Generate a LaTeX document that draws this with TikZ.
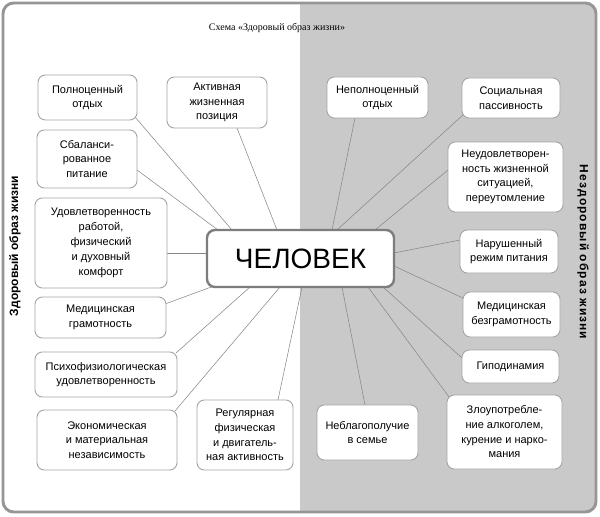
\documentclass[tikz,border=0pt]{standalone}
\usepackage{fontspec}
\setmainfont{Liberation Sans}
\newfontfamily\serifttl{Liberation Serif}
\usetikzlibrary{calc,backgrounds}
\definecolor{rightbg}{RGB}{201,201,201}
\definecolor{framecol}{RGB}{150,150,150}
\definecolor{boxborder}{RGB}{165,165,165}
\definecolor{centerborder}{RGB}{125,125,125}
\definecolor{linkcol}{RGB}{135,135,135}
\tikzset{
  boxnode/.style={draw=boxborder, line width=0.7pt, fill=white, rounded corners=5.5pt,
    align=center, inner sep=0pt, outer sep=0pt,
    font=\fontsize{8.25pt}{11pt}\selectfont},
  centernode/.style={draw=centerborder, line width=1.8pt, fill=white, rounded corners=6pt,
    inner sep=0pt, outer sep=0pt, font=\fontsize{21pt}{24pt}\selectfont},
  link/.style={draw=linkcol, line width=0.4pt},
  sidelabel/.style={font=\bfseries\fontsize{9pt}{10pt}\selectfont, inner sep=0pt}
}
\begin{document}
\begin{tikzpicture}[x=0.75pt,y=-0.75pt]
\useasboundingbox (0,0) rectangle (600,517);

% left column
\node[boxnode, minimum width=99*0.75pt, minimum height=45*0.75pt] (b1) at (87.5,97.5) {Полноценный\\отдых};
\node[boxnode, minimum width=100*0.75pt, minimum height=51*0.75pt] (b2) at (217,102.5) {Активная\\жизненная\\позиция};
\node[boxnode, minimum width=100*0.75pt, minimum height=58*0.75pt] (b3) at (87,159) {Сбаланси-\\рованное\\питание};
\node[boxnode, minimum width=132*0.75pt, minimum height=90*0.75pt, font=\fontsize{8.25pt}{11.25pt}\selectfont] (b4) at (101,243) {Удовлетворенность\\работой,\\физический\\и духовный\\комфорт};
\node[boxnode, minimum width=131*0.75pt, minimum height=41*0.75pt] (b5) at (100.5,317.5) {Медицинская\\грамотность};
\node[boxnode, minimum width=142*0.75pt, minimum height=45*0.75pt] (b6) at (106,374.5) {Психофизиологическая\\удовлетворенность};
\node[boxnode, minimum width=140*0.75pt, minimum height=60*0.75pt] (b7) at (107,440) {Экономическая\\и материальная\\независимость};
\node[boxnode, minimum width=96*0.75pt, minimum height=70*0.75pt] (b8) at (245,435) {Регулярная\\физическая\\и двигатель-\\ная активность};

% right column
\node[boxnode, minimum width=101*0.75pt, minimum height=41*0.75pt] (b9) at (377.5,97.5) {Неполноценный\\отдых};
\node[boxnode, minimum width=98*0.75pt, minimum height=40*0.75pt] (b10) at (511,98) {Социальная\\пассивность};
\node[boxnode, minimum width=115*0.75pt, minimum height=70*0.75pt] (b11) at (505.5,177) {Неудовлетворен-\\ность жизненной\\ситуацией,\\переутомление};
\node[boxnode, minimum width=98*0.75pt, minimum height=43*0.75pt] (b12) at (509,251.5) {Нарушенный\\режим питания};
\node[boxnode, minimum width=97*0.75pt, minimum height=45*0.75pt] (b13) at (511.5,314.5) {Медицинская\\безграмотность};
\node[boxnode, minimum width=97*0.75pt, minimum height=33*0.75pt] (b14) at (510.5,366.5) {Гиподинамия};
\node[boxnode, minimum width=115*0.75pt, minimum height=74*0.75pt] (b15) at (504.5,432) {Злоупотребле-\\ние алкоголем,\\курение и нарко-\\мания};
\node[boxnode, minimum width=101*0.75pt, minimum height=55*0.75pt] (b16) at (367.5,432.5) {Неблагополучие\\в семье};

% centre
\node[centernode, minimum width=187*0.75pt, minimum height=57*0.75pt] (c) at (300.5,258.5) {ЧЕЛОВЕК};

% title and side labels
\node[font=\serifttl\fontsize{7.5pt}{9pt}\selectfont, inner sep=0pt] (title) at (277,28) {Схема «Здоровый образ жизни»};
\node[sidelabel, rotate=90] (lhs) at (15,246) {Здоровый образ жизни};
\node[sidelabel, rotate=-90, font=\bfseries\fontsize{9pt}{10pt}\selectfont\addfontfeature{LetterSpace=9}] (rhs) at (583,252) {Нездоровый образ жизни};

\begin{pgfonlayer}{background}
  \begin{scope}
    \clip[rounded corners=8] (3,3) rectangle (596,512);
    \fill[white] (3,3) rectangle (300,512);
    \fill[rightbg] (300,3) rectangle (596,512);
  \end{scope}
  \draw[framecol, line width=2.2pt, rounded corners=8] (3,3) rectangle (596,512);

  \draw[link] ($(b1.south east)+(-2,-3)$) -- ($(c.north west)+(25,0)$);
  \draw[link] ($(b3.east)+(0,11)$) -- ($(c.north west)+(11,0)$);
  \draw[link] ($(b2.south)+(20,0)$) -- ($(c.north west)+(70,0)$);
  \draw[link] ($(b4.east)+(0,10)$) -- ($(c.west)+(0,-5.5)$);
  \draw[link] ($(b5.north east)+(-1,7)$) -- ($(c.south west)+(7,-1)$);
  \draw[link] ($(b6.north east)+(-1,1)$) -- ($(c.south west)+(43,0)$);
  \draw[link] ($(b7.north east)+(-2,1)$) -- ($(c.south west)+(73,0)$);
  \draw[link] ($(b8.north)+(33,0)$) -- ($(c.south west)+(95,0)$);

  \draw[link] ($(b9.south)+(-22.5,0)$) -- ($(c.north west)+(125,0)$);
  \draw[link] ($(b10.south west)+(2,-4)$) -- ($(c.north west)+(130,0)$);
  \draw[link] ($(b11.west)+(0,-7)$) -- ($(c.north west)+(168,0)$);
  \draw[link] ($(b12.west)+(0,-11.5)$) -- ($(c.east)+(0,-5.5)$);
  \draw[link] ($(b13.west)+(0,-16.5)$) -- ($(c.east)+(0,7.5)$);
  \draw[link] ($(b14.west)+(0,-8.5)$) -- ($(c.south west)+(176,0)$);
  \draw[link] ($(b15.north west)+(2,2)$) -- ($(c.south west)+(161,0)$);
  \draw[link] ($(b16.north)+(-2.5,0)$) -- ($(c.south west)+(135,0)$);
\end{pgfonlayer}
\end{tikzpicture}
\end{document}
